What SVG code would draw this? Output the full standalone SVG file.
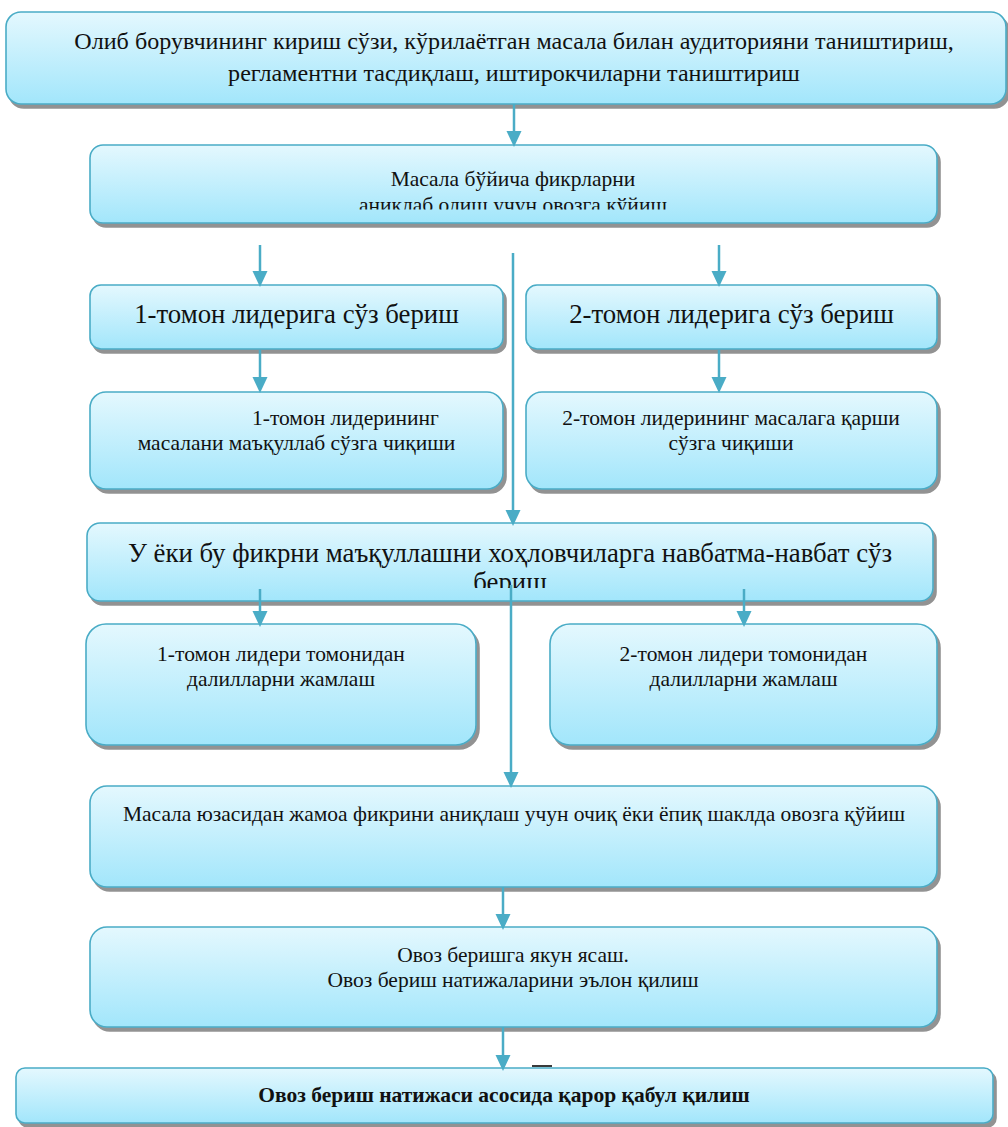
<svg xmlns="http://www.w3.org/2000/svg" width="1008" height="1127" viewBox="0 0 1008 1127">
<defs>
<linearGradient id="g" x1="0" y1="0" x2="0" y2="1">
<stop offset="0" stop-color="#e4f8fe"/>
<stop offset="1" stop-color="#a2e6fb"/>
</linearGradient>
<filter id="sh" x="-5%" y="-10%" width="110%" height="130%">
<feDropShadow dx="3" dy="4" stdDeviation="0.7" flood-color="#7f7f7f" flood-opacity="0.85"/>
</filter>
<marker id="ah" markerUnits="userSpaceOnUse" viewBox="0 0 16 16" markerWidth="16" markerHeight="16" refX="8" refY="8" orient="auto">
<path d="M0,0.5 L16,8 L0,15.5 z" fill="#4aacc6"/>
</marker>
<clipPath id="c2"><rect x="90" y="145" width="847" height="64.5"/></clipPath>
<clipPath id="c7"><rect x="87" y="523" width="846" height="65"/></clipPath>
</defs>
<style>
.b{fill:url(#g);stroke:#4aacc6;stroke-width:1.6;filter:url(#sh)}
text{font-family:'Liberation Serif','Times New Roman',serif;fill:#111;text-anchor:middle}
.t23{font-size:24.1px}
.t21{font-size:21.5px}
.t26{font-size:26.8px}
.bold{font-weight:bold}
.c{stroke:#4aacc6;stroke-width:2.5;fill:none;marker-end:url(#ah)}
</style>
<g id="n1"><rect class="b" x="6" y="12" width="1000" height="92" rx="15"/>
<text class="t23" x="514" y="49">Олиб борувчининг кириш сўзи, кўрилаётган масала билан аудиторияни таништириш,</text>
<text class="t23" x="514" y="81">регламентни тасдиқлаш, иштирокчиларни таништириш</text></g>
<g id="n2"><rect class="b" x="90" y="145" width="847" height="78" rx="13"/>
<text class="t21" x="513" y="186">Масала бўйича фикрларни</text>
<text class="t21" x="513" y="212" clip-path="url(#c2)">аниклаб олиш учун овозга кўйиш</text></g>
<g id="n3"><rect class="b" x="90" y="285" width="413" height="64" rx="11"/>
<text class="t26" x="296.5" y="323">1-томон лидерига сўз бериш</text></g>
<g id="n4"><rect class="b" x="526" y="285" width="411" height="64" rx="11"/>
<text class="t26" x="731.5" y="323">2-томон лидерига сўз бериш</text></g>
<g id="n5"><rect class="b" x="90" y="392" width="413" height="97" rx="16"/>
<text class="t21" x="252" y="425" style="text-anchor:start">1-томон лидерининг</text>
<text class="t21" x="296.5" y="450">масалани маъқуллаб сўзга чиқиши</text></g>
<g id="n6"><rect class="b" x="526" y="392" width="411" height="97" rx="16"/>
<text class="t21" x="731" y="425">2-томон лидерининг масалага қарши</text>
<text class="t21" x="731" y="450">сўзга чиқиши</text></g>
<g id="n7"><rect class="b" x="87" y="523" width="846" height="78" rx="13"/>
<text class="t26" x="510" y="562">У ёки бу фикрни маъқуллашни хоҳловчиларга навбатма-навбат сўз</text>
<text class="t26" x="510" y="591" clip-path="url(#c7)">бериш</text></g>
<g id="n8"><rect class="b" x="86" y="624" width="390" height="121" rx="20"/>
<text class="t21" x="281" y="661">1-томон лидери томонидан</text>
<text class="t21" x="281" y="686">далилларни жамлаш</text></g>
<g id="n9"><rect class="b" x="550" y="624" width="387" height="121" rx="20"/>
<text class="t21" x="743.5" y="661">2-томон лидери томонидан</text>
<text class="t21" x="743.5" y="686">далилларни жамлаш</text></g>
<g id="n10"><rect class="b" x="90" y="786" width="847" height="101" rx="17"/>
<text class="t21" x="514" y="821">Масала юзасидан жамоа фикрини аниқлаш учун очиқ ёки ёпиқ шаклда овозга қўйиш</text></g>
<g id="n11"><rect class="b" x="90" y="927" width="847" height="100" rx="17"/>
<text class="t21" x="513" y="962">Овоз беришга якун ясаш.</text>
<text class="t21" x="513" y="987">Овоз бериш натижаларини эълон қилиш</text></g>
<g id="n12"><rect class="b" x="16" y="1068" width="977" height="55" rx="9"/>
<text class="t21 bold" x="504" y="1102">Овоз бериш натижаси асосида қарор қабул қилиш</text></g>
<g id="connectors">
<line class="c" x1="514" y1="104" x2="514" y2="139"/>
<line class="c" x1="260" y1="245" x2="260" y2="279"/>
<line class="c" x1="719" y1="245" x2="719" y2="279"/>
<line class="c" x1="513" y1="253" x2="513" y2="518"/>
<line class="c" x1="260" y1="350" x2="260" y2="385"/>
<line class="c" x1="719" y1="350" x2="719" y2="385"/>
<line class="c" x1="260" y1="589" x2="260" y2="619"/>
<line class="c" x1="744" y1="589" x2="744" y2="619"/>
<line class="c" x1="511" y1="585" x2="511" y2="780"/>
<line class="c" x1="503" y1="887" x2="503" y2="922"/>
<line class="c" x1="503" y1="1027" x2="503" y2="1063"/>
</g>
<rect x="532" y="1065" width="20" height="2" fill="#3a3a3a"/>
</svg>
